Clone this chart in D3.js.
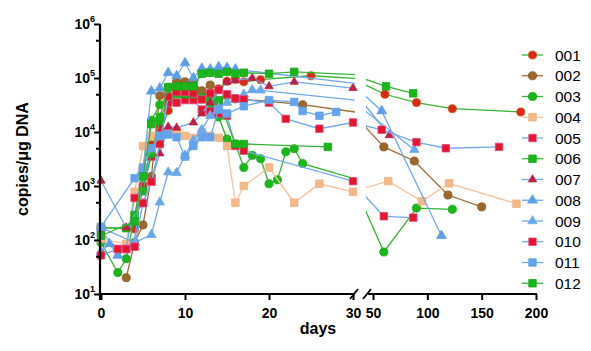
<!DOCTYPE html>
<html>
<head>
<meta charset="utf-8">
<script src="https://cdn.jsdelivr.net/npm/d3@7"></script>
<style>
body { margin: 0; background: #fff; }
svg { font-family: "Liberation Sans", Arial, sans-serif; }
</style>
</head>
<body>
<svg id="chart" width="591" height="351"></svg>
<script>
// patient ids, one series each: [day, copies/ug DNA]
const names = ["001", "002", "003", "004", "005", "006", "007", "008", "009", "010", "011", "012"];

const s001 = [[0,170],[4,160],[5,1000],[6,5800],[7,9000],[8,2.5e4],[9,5.8e4],[10,7.4e4],[11,6.3e4],[12,4.7e4],[13,5.2e4],[14,6.3e4],[15,8.7e4],[16,9.5e4],[17,8.5e4],[19,9.3e4],[25,1.1e5],[61,5e4],[90,3.5e4],[123,2.7e4],[186,2.35e4]];
const s002 = [[3,20],[4,90],[5,190],[6,1500],[7,4.7e4],[8,6.6e4],[9,8.5e4],[10,8.5e4],[11,8.5e4],[12,5.8e4],[13,7.4e4],[14,3.6e4],[15,4.7e4],[16,4.1e4],[17,4e4],[20,3.7e4],[24,3.2e4],[60,5300],[88,2900],[119,680],[150,410]];
const s003 = [[0,90],[2,25],[3,45],[4,280],[5,2100],[6,1.65e4],[7,3.2e4],[8,4.7e4],[9,5.2e4],[10,5.5e4],[11,5.3e4],[12,4.1e4],[13,3e4],[14,1.9e4],[15,7400],[16,6000],[17,2200],[18,3700],[19,3200],[20,1100],[21,1300],[22,4300],[23,4900],[24,2600],[60,60],[90,390],[123,370]];
const s004 = [[0,105],[3,85],[4,780],[5,5500],[6,8500],[7,6000],[8,9500],[9,1.05e4],[10,8500],[11,7800],[12,1e4],[13,8500],[14,7800],[15,5500],[16,490],[17,1000],[20,2200],[23,490],[26,1100],[30,780],[64,1230],[95,520],[120,1120],[182,470]];
const s005 = [[0,140],[2,68],[3,68],[4,600],[5,1000],[6,3500],[7,1.2e4],[8,3.5e4],[9,3.5e4],[10,3.9e4],[11,3.9e4],[12,2.6e4],[13,2.4e4],[14,2.2e4],[15,2e4],[16,5500],[17,4500],[30,1230],[60,275],[87,260]];
const s006 = [[0,170],[3,165],[4,290],[5,800],[6,4000],[7,1.6e4],[8,4.5e4],[9,5e4],[10,5e4],[11,5e4],[12,4.4e4],[13,4.2e4],[14,3.9e4],[16,6000],[17,6000],[27,5300]];
const s007 = [[0,1250],[3,170],[5,480],[6,1250],[7,4000],[8,1.25e4],[9,1.2e4],[11,1.5e4],[12,2.2e4],[13,3.5e4],[15,8.5e4],[16,9e4],[18,1e5],[20,7e4],[23,8.5e4],[30,6.5e4],[65,8700]];
const s008 = [[0,60],[1,85],[2,52],[4,90],[5,2000],[6,5.7e4],[7,6.5e4],[8,1.25e5],[9,1.1e5],[10,1.9e5],[11,1e5],[12,1.5e5],[13,1.45e5],[14,1.6e5],[15,1.55e5],[16,1.45e5],[58,2.45e4],[113,120]];
const s009 = [[0,170],[4,90],[6,125],[7,500],[8,1800],[9,1750],[10,3700],[11,7000],[12,1.1e4],[13,2e4],[14,2.8e4],[15,3.5e4],[16,4e4],[17,5e4],[18,6e4],[19,5.9e4],[88,4700]];
const s010 = [[0,52],[2,68],[3,68],[4,75],[5,480],[6,1200],[7,6000],[8,4.5e4],[9,5.5e4],[10,5.5e4],[11,5.2e4],[12,4e4],[13,5.2e4],[14,6e4],[15,5e4],[16,4.2e4],[17,4e4],[20,3.5e4],[22,1.75e4],[26,1.15e4],[30,1.5e4],[58,1.1e4],[90,6500],[117,5000],[166,5300]];
const s011 = [[0,175],[4,1400],[5,2200],[6,5000],[7,8500],[8,9000],[9,8000],[10,3500],[11,5500],[12,8000],[13,8000],[14,2.6e4],[15,2.2e4],[17,3e4],[20,3.9e4],[23,3.6e4],[24,2.45e4],[26,2e4],[28,2.35e4]];
const s012 = [[0,120],[4,220],[5,1500],[6,1.4e4],[7,1.9e4],[8,6.8e4],[9,7e4],[10,7e4],[11,7e4],[12,1.2e5],[13,1.25e5],[14,1.2e5],[15,1.3e5],[16,1.2e5],[17,1.25e5],[20,1.2e5],[23,1.3e5],[62,7e4],[87,5.2e4]];

const seriesData = [s001, s002, s003, s004, s005, s006, s007, s008, s009, s010, s011, s012];

const yMajor = [1e1, 1e2, 1e3, 1e4, 1e5, 1e6];
const yMinor = [5e1, 5e2, 5e3, 5e4, 5e5];
const xTicksLeft = [0, 10, 20, 30];
const xTicksRight = [50, 100, 150, 200];

const GREEN = "#35b534", BLUE = "#72a9ea";
const styles = {
    "001": { line: GREEN, fill: "#e0261b", stroke: "#b8641e", shape: d3.symbolCircle, size: 52 },
    "002": { line: "#9d6c33", fill: "#9a672c", stroke: "#8a5a24", shape: d3.symbolCircle, size: 52 },
    "003": { line: GREEN, fill: "#19b719", stroke: "#1aa51a", shape: d3.symbolCircle, size: 52 },
    "004": { line: "#f3c39c", fill: "#f4b98a", stroke: "#f0b080", shape: d3.symbolSquare, size: 56 },
    "005": { line: BLUE, fill: "#e8142c", stroke: "#d84c86", shape: d3.symbolSquare, size: 56 },
    "006": { line: GREEN, fill: "#19b719", stroke: "#1aa51a", shape: d3.symbolSquare, size: 56 },
    "007": { line: BLUE, fill: "#c01f45", stroke: "#c01f45", shape: d3.symbolTriangle, size: 30 },
    "008": { line: BLUE, fill: "#5e9ee8", stroke: "#5e9ee8", shape: d3.symbolTriangle, size: 42 },
    "009": { line: BLUE, fill: "#6aa8ee", stroke: "#6aa8ee", shape: d3.symbolTriangle, size: 38 },
    "010": { line: BLUE, fill: "#e8142c", stroke: "#d84c86", shape: d3.symbolSquare, size: 56 },
    "011": { line: BLUE, fill: "#63a2ec", stroke: "#63a2ec", shape: d3.symbolSquare, size: 56 },
    "012": { line: GREEN, fill: "#19b719", stroke: "#1aa51a", shape: d3.symbolSquare, size: 56 }
};

const svg = d3.select("#chart");

// broken x axis: two scales, each segment draws the whole line clipped to itself
const xL = d3.scaleLinear().domain([0, 30]).range([101, 353]);
const xR = d3.scaleLinear().domain([50, 200]).range([373, 536]);
const y = d3.scaleLog().domain([10, 1e6]).range([294, 24]);
const xPos = d => d <= 30 ? xL(d) : xR(d);

const defs = svg.append("defs");
defs.append("clipPath").attr("id", "clipL")
    .append("rect").attr("x", 90).attr("y", 0).attr("width", 265).attr("height", 351);
defs.append("clipPath").attr("id", "clipR")
    .append("rect").attr("x", 366).attr("y", 0).attr("width", 190).attr("height", 351);

const plot = svg.append("g");
names.forEach((name, i) => {
    const data = seriesData[i];
    const st = styles[name];
    [["clipL", xL], ["clipR", xR]].forEach(([clip, sc]) => {
        plot.append("path")
            .datum(data)
            .attr("clip-path", `url(#${clip})`)
            .attr("d", d3.line().x(d => sc(d[0])).y(d => y(d[1])))
            .attr("fill", "none")
            .attr("stroke", st.line)
            .attr("stroke-width", 1.3);
    });
    plot.append("g").selectAll("path")
        .data(data)
        .join("path")
        .attr("transform", d => `translate(${xPos(d[0])},${y(d[1])})`)
        .attr("d", d3.symbol(st.shape, st.size))
        .attr("fill", st.fill)
        .attr("stroke", st.stroke)
        .attr("stroke-width", 0.8);
});

// y axis
const yAxis = svg.append("g")
    .attr("transform", "translate(100,0)")
    .call(d3.axisLeft(y).tickValues(yMajor).tickSize(6).tickSizeOuter(0).tickFormat(""));
svg.append("g")
    .attr("transform", "translate(100,0)")
    .call(d3.axisLeft(y).tickValues(yMinor).tickSize(4).tickFormat(""))
    .call(g => g.select(".domain").remove());
svg.selectAll(".tick line").attr("stroke-width", 2);
yAxis.select(".domain").attr("stroke-width", 2.2).attr("d", "M0,24V300");

yMajor.forEach(v => {
    const t = svg.append("text")
        .attr("x", 95)
        .attr("y", y(v) + 5)
        .attr("text-anchor", "end")
        .attr("font-weight", "bold")
        .attr("font-size", 14);
    t.append("tspan").text("10");
    t.append("tspan").attr("dy", -7).attr("font-size", 9).text(Math.round(Math.log10(v)));
});

// x axis segments
function xAxisPart(sc, ticks) {
    const g = svg.append("g")
        .attr("transform", "translate(0,294)")
        .call(d3.axisBottom(sc).tickValues(ticks).tickSize(6).tickSizeOuter(0));
    g.select(".domain").remove();
    g.selectAll(".tick line").attr("stroke-width", 2);
    g.selectAll(".tick text")
        .attr("font-family", "Liberation Sans, Arial, sans-serif")
        .attr("font-weight", "bold")
        .attr("font-size", 14)
        .attr("fill", "#000")
        .attr("dy", "1.05em");
    return g;
}
xAxisPart(xL, xTicksLeft);
xAxisPart(xR, xTicksRight);

svg.append("line").attr("x1", 99).attr("x2", 355).attr("y1", 294).attr("y2", 294)
    .attr("stroke", "#000").attr("stroke-width", 2.2);
svg.append("line").attr("x1", 368).attr("x2", 537).attr("y1", 294).attr("y2", 294)
    .attr("stroke", "#000").attr("stroke-width", 2.2);
// break marks
[[350, 299, 358, 289], [363, 299, 371, 289]].forEach(d => {
    svg.append("line").attr("x1", d[0]).attr("y1", d[1]).attr("x2", d[2]).attr("y2", d[3])
        .attr("stroke", "#000").attr("stroke-width", 1.8);
});

svg.append("text")
    .attr("x", 318).attr("y", 334)
    .attr("text-anchor", "middle")
    .attr("font-weight", "bold")
    .attr("font-size", 16)
    .text("days");

svg.append("text")
    .attr("transform", "translate(28,159) rotate(-90)")
    .attr("text-anchor", "middle")
    .attr("font-weight", "bold")
    .attr("font-size", 16)
    .text("copies/μg DNA");

// legend
const legend = svg.append("g");
names.forEach((name, i) => {
    const st = styles[name];
    const ly = 55 + i * 20.75;
    legend.append("line")
        .attr("x1", 522).attr("x2", 543).attr("y1", ly).attr("y2", ly)
        .attr("stroke", st.line).attr("stroke-width", 1.3);
    legend.append("path")
        .attr("transform", `translate(532.5,${ly})`)
        .attr("d", d3.symbol(st.shape, st.size))
        .attr("fill", st.fill)
        .attr("stroke", st.stroke)
        .attr("stroke-width", 0.8);
    legend.append("text")
        .attr("x", 555).attr("y", ly + 5.5)
        .attr("font-size", 15.5)
        .text(name);
});
</script>
</body>
</html>
